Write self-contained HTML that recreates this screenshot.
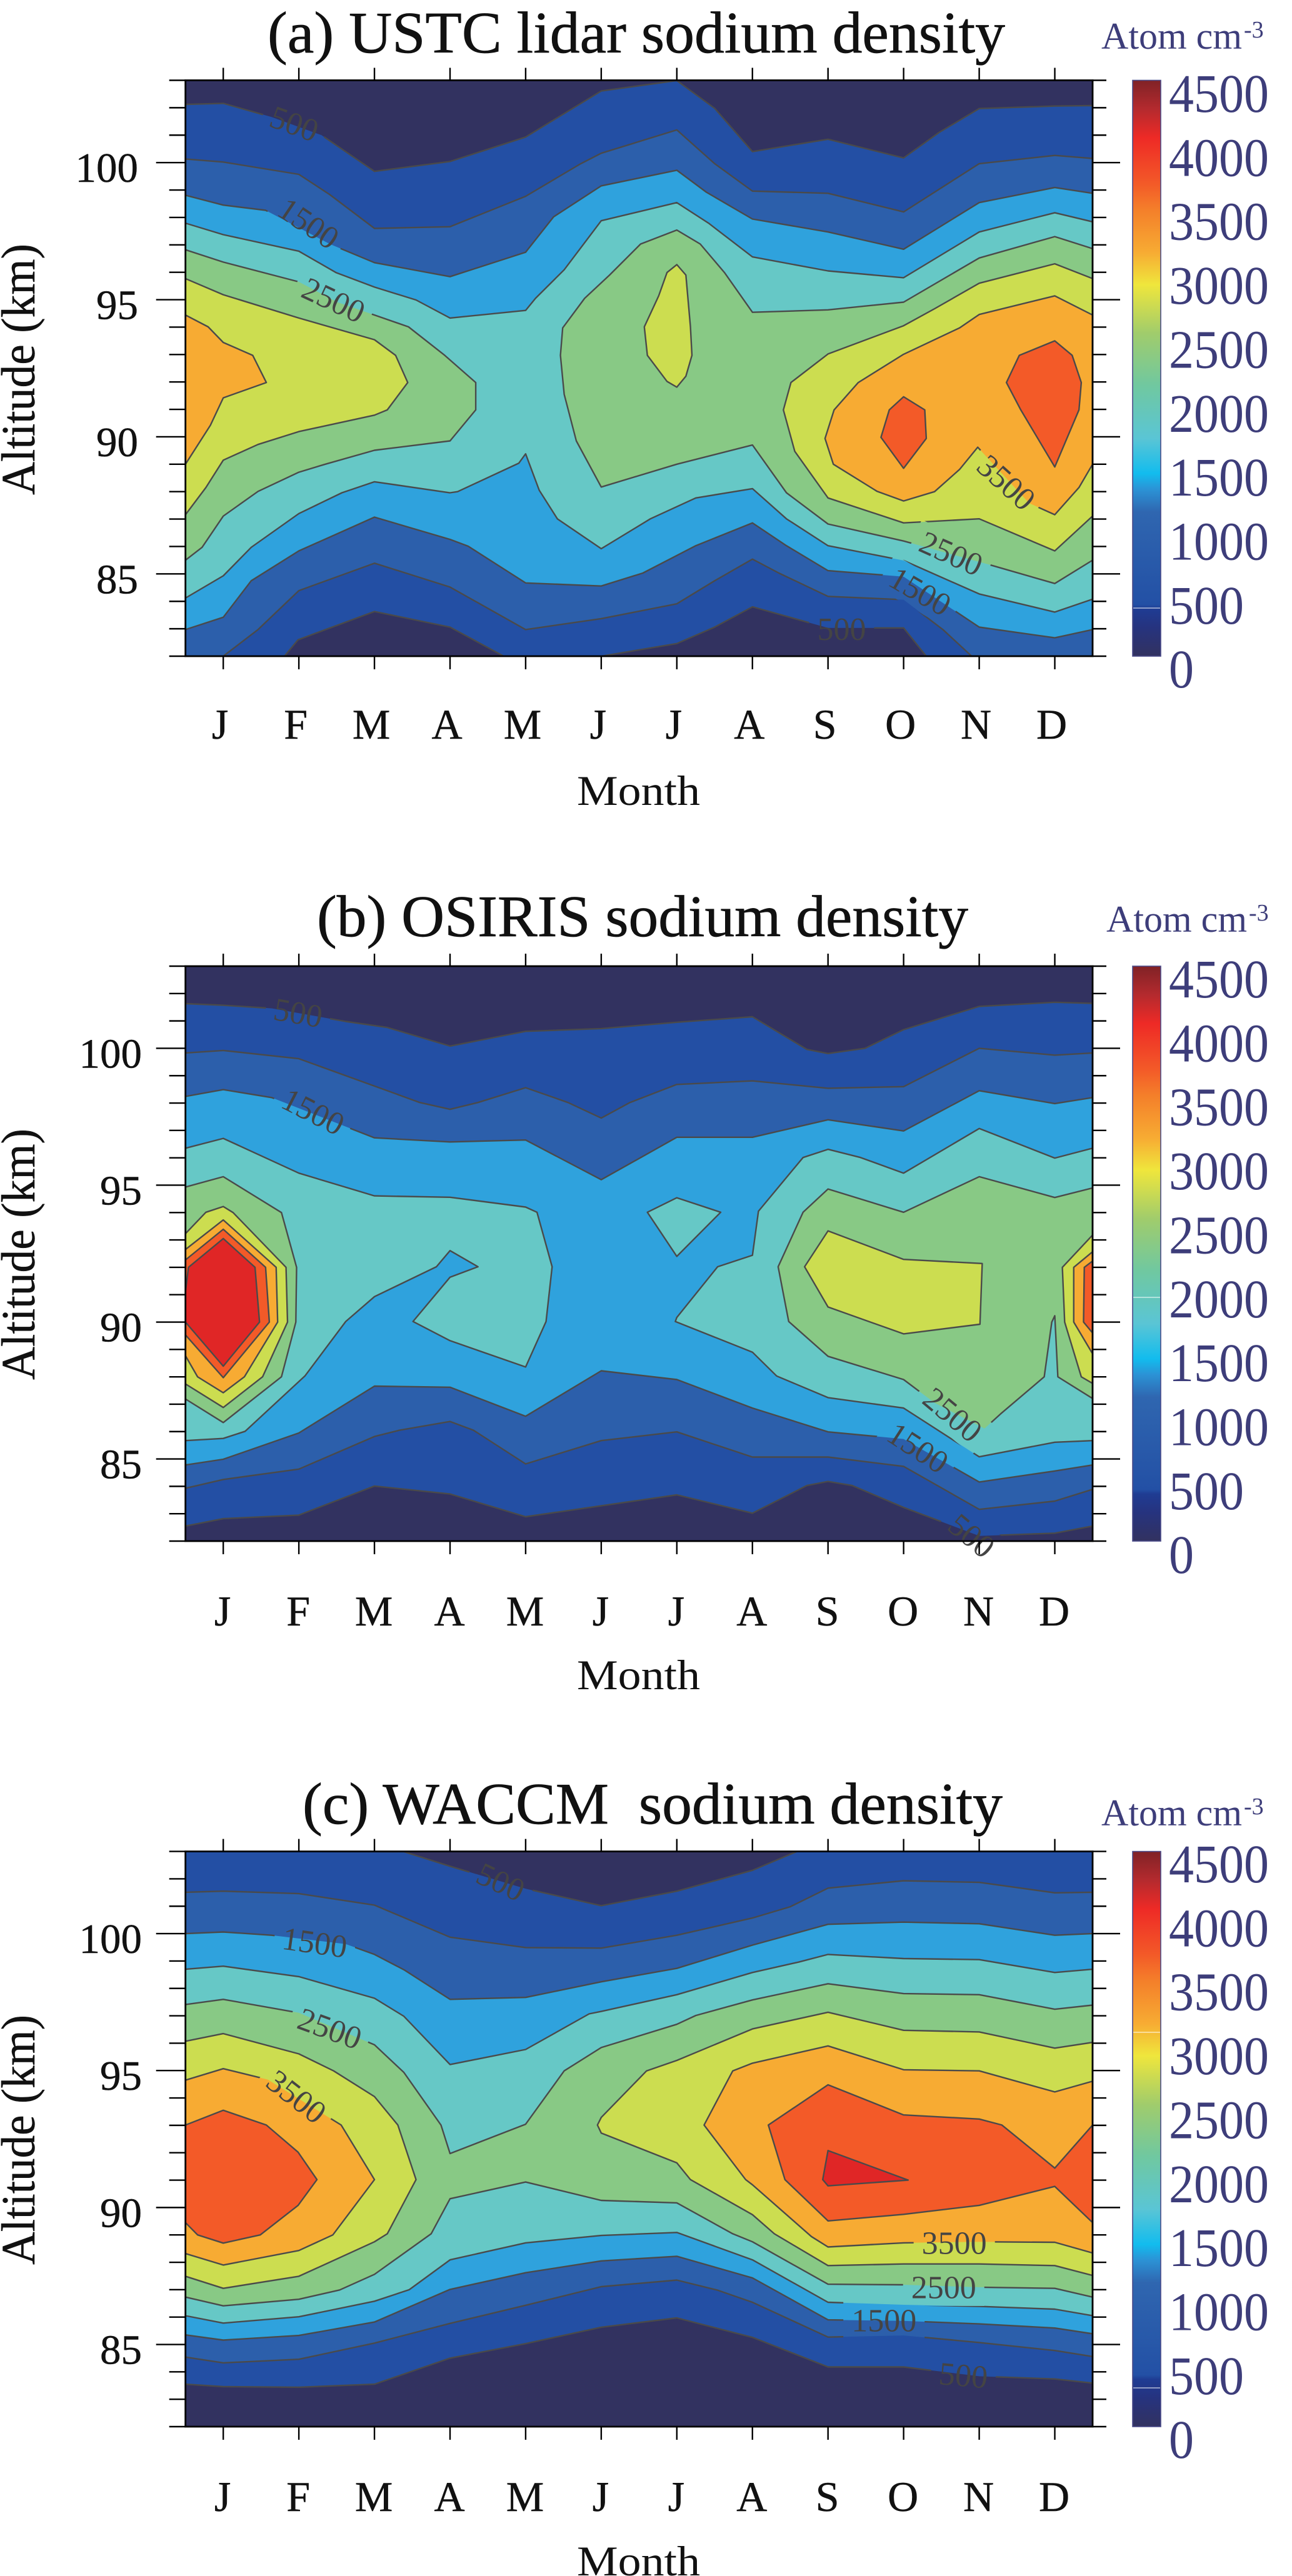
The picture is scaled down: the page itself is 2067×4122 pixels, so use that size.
<!DOCTYPE html>
<html lang="en">
<head>
<meta charset="utf-8">
<title>Sodium density contour charts</title>
<style>
html,body{margin:0;padding:0;background:#fff;}
svg{display:block;}
text{font-family:"Liberation Serif",serif;white-space:pre;}
</style>
</head>
<body>
<svg id="chart" xmlns="http://www.w3.org/2000/svg" width="2067" height="4122" viewBox="0 0 2067 4122">
<defs>
<linearGradient id="cbar" x1="0" y1="1" x2="0" y2="0">
<stop offset="0" stop-color="#323260"/>
<stop offset="0.05" stop-color="#26337f"/>
<stop offset="0.082" stop-color="#1f3c93"/>
<stop offset="0.09" stop-color="#2350a5"/>
<stop offset="0.25" stop-color="#2f66b0"/>
<stop offset="0.29" stop-color="#2b93d6"/>
<stop offset="0.317" stop-color="#12bcee"/>
<stop offset="0.378" stop-color="#5ac5d5"/>
<stop offset="0.47" stop-color="#70c8a0"/>
<stop offset="0.56" stop-color="#a0cc6c"/>
<stop offset="0.645" stop-color="#efe63c"/>
<stop offset="0.70" stop-color="#f7ac33"/>
<stop offset="0.775" stop-color="#f47f2a"/>
<stop offset="0.82" stop-color="#f35a28"/>
<stop offset="0.90" stop-color="#ee2a26"/>
<stop offset="0.95" stop-color="#b42a2e"/>
<stop offset="1" stop-color="#802226"/>
</linearGradient>
</defs>

<text x="428" y="84" font-size="94" fill="#111" stroke="#111" stroke-width="0.7" textLength="1180" lengthAdjust="spacingAndGlyphs">(a) USTC lidar sodium density</text>
<text x="507" y="1498" font-size="94" fill="#111" stroke="#111" stroke-width="0.7" textLength="1042" lengthAdjust="spacingAndGlyphs">(b) OSIRIS sodium density</text>
<text x="484" y="2918" font-size="94" fill="#111" stroke="#111" stroke-width="0.7" textLength="1120" lengthAdjust="spacingAndGlyphs">(c) WACCM  sodium density</text>

<text x="1762" y="78" font-size="60" fill="#3d3d7a" textLength="225" lengthAdjust="spacingAndGlyphs">Atom cm</text>
<text x="1990" y="60" font-size="38" fill="#3d3d7a">-3</text>
<text x="1770" y="1491" font-size="60" fill="#3d3d7a" textLength="225" lengthAdjust="spacingAndGlyphs">Atom cm</text>
<text x="1998" y="1473" font-size="38" fill="#3d3d7a">-3</text>
<text x="1762" y="2921" font-size="60" fill="#3d3d7a" textLength="225" lengthAdjust="spacingAndGlyphs">Atom cm</text>
<text x="1990" y="2903" font-size="38" fill="#3d3d7a">-3</text>

<text x="923" y="1288" font-size="68" fill="#111" textLength="197" lengthAdjust="spacingAndGlyphs">Month</text>
<text x="923" y="2703" font-size="68" fill="#111" textLength="197" lengthAdjust="spacingAndGlyphs">Month</text>
<text x="923" y="4121" font-size="68" fill="#111" textLength="197" lengthAdjust="spacingAndGlyphs">Month</text>

<text transform="translate(55,792) rotate(-90)" font-size="76" fill="#111" stroke="#111" stroke-width="0.5" textLength="402" lengthAdjust="spacingAndGlyphs">Altitude (km)</text>
<text transform="translate(55,2208) rotate(-90)" font-size="76" fill="#111" stroke="#111" stroke-width="0.5" textLength="402" lengthAdjust="spacingAndGlyphs">Altitude (km)</text>
<text transform="translate(55,3624) rotate(-90)" font-size="76" fill="#111" stroke="#111" stroke-width="0.5" textLength="400" lengthAdjust="spacingAndGlyphs">Altitude (km)</text>
</svg>

<script>
// ---- shared axis values ----
const monthLabels = ["J","F","M","A","M","J","J","A","S","O","N","D"];
const altitudeTickLabels = [100,95,90,85];
const altitudeRange = [82,103];
const monthRange = [-0.5,11.5];
const contourLevels = [500,1000,1500,2000,2500,3000,3500,4000,4500];
const colorbarLabels = [4500,4000,3500,3000,2500,2000,1500,1000,500,0];

// ---- panel (a): regions above each level, rings of [month index, altitude km] ----
const aLevel500 = [[[-0.5,102.12],[0,102.16],[0.64,101.66],[1.3,101],[2,99.68],[3,100.04],[4,100.93],[5,102.61],[6,102.99],[6.5,101.98],[7,100.4],[8,100.85],[9,100.17],[9.47,101.1],[10,101.97],[11,102.06],[11.5,102.08],[11.5,82],[9.3,82],[9,83.03],[8,83.03],[7,83.8],[6.5,83.06],[6,82.46],[5,82],[3.71,82],[3,83.06],[2,83.63],[0.99,82.6],[0.81,82],[-0.5,82]]];
const aLevel1000 = [[[-0.5,100.13],[0,100.02],[1,99.57],[1.41,98.83],[2,97.6],[3,97.66],[4,98.77],[4.73,99.96],[5,100.34],[6,101.19],[6.5,99.96],[7,98.96],[8,98.88],[9,98.2],[10,99.96],[11,100.26],[11.5,100.15],[11.5,82],[9.9,82],[9.52,82.97],[9,84.06],[8,84.18],[7.35,85.03],[7,85.54],[6.5,84.75],[6,83.91],[5,83.37],[4,82.97],[3,84.52],[2,85.39],[1,84.39],[0.46,82.97],[0,82],[-0.5,82]]];
const aLevel1500 = [[[-0.5,98.81],[0,98.45],[0.56,98.26],[1.41,97.03],[2,96.35],[3,95.84],[4,96.73],[4.37,98.02],[5,99.15],[6,99.72],[6.39,98.92],[7,97.94],[8,97.47],[9,96.84],[10,98.54],[11,99.09],[11.5,98.88],[11.5,82.97],[11,82.67],[10,83.06],[9,84.9],[8,85.12],[7.45,86.03],[7,86.86],[6.25,86.03],[5.55,85.03],[5,84.56],[4,84.67],[3.24,86.01],[3,86.26],[2,87.07],[1,85.84],[0.37,84.75],[0,83.42],[-0.5,82.97]]];
const aLevel2000 = [[[-0.5,97.79],[0,97.37],[1,96.77],[1.49,95.99],[2,95.46],[2.55,94.99],[3,94.33],[4,94.61],[4.13,95.05],[4.51,96.09],[5,97.88],[6,98.54],[6.42,97.79],[7,96.56],[8,96.05],[9,95.8],[10,97.47],[11,98.17],[11.5,97.84],[11.5,84.08],[11,83.61],[10,84.27],[9,85.49],[8,86.03],[7.45,87.01],[7,88.11],[6.25,87.77],[5.65,87.01],[5,85.92],[4.42,87.01],[4.18,88.05],[4,89.38],[3.91,89.04],[3.1,88],[3,87.96],[2,88.36],[1.57,87.96],[1,87.2],[0.37,85.97],[0,84.93],[-0.5,84.12]]];
const aLevel2500 = [
 [[-0.5,96.82],[0,96.37],[1,95.65],[1.51,94.91],[2.45,94.01],[2.93,92.97],[3.34,91.98],[3.34,90.98],[3,89.85],[2,89.51],[1.35,89],[1,88.71],[0.46,88.01],[0,87.11],[-0.28,85.97],[-0.5,85.5]],
 [[4.46,92.97],[4.49,93.97],[4.78,95.05],[5.11,95.9],[5.52,97.03],[6,97.54],[6.31,97.03],[6.63,95.99],[7,94.54],[8,94.63],[9,94.91],[10,96.52],[11,97.3],[11.5,96.86],[11.5,85.5],[11,84.65],[10.17,85.31],[9,86.2],[8,86.82],[7.45,87.96],[7,89.7],[6,89],[5,88.17],[4.67,89.85],[4.51,91.55]]
];
const aLevel3000 = [
 [[-0.5,95.77],[0,95.18],[1,94.33],[2,93.54],[2.28,92.97],[2.44,91.98],[2.17,90.98],[2,90.79],[1,90.19],[0.46,89.72],[0,89.15],[-0.23,88.15],[-0.5,87.16]],
 [[6,96.28],[6.12,95.9],[6.18,94.01],[6.2,92.97],[6.12,92.21],[6,91.81],[5.87,92.02],[5.61,92.97],[5.57,94.01],[5.76,95.14],[5.87,95.99]],
 [[11.5,95.77],[11,96.31],[10,95.6],[9.41,94.67],[9,94.05],[8,93.02],[7.51,91.98],[7.41,90.98],[7.56,89.47],[8,87.77],[9,86.86],[10,87.01],[11,85.84],[11.5,87.11]]
];
const aLevel3500 = [
 [[-0.5,94.44],[-0.2,94.01],[0,93.44],[0.39,92.97],[0.57,91.98],[0,91.42],[-0.17,90.42],[-0.5,89]],
 [[11.5,94.44],[11,95.14],[10,94.46],[9.74,93.97],[9,93.01],[8.4,91.98],[8.08,90.98],[7.96,89.94],[8.07,89],[8.65,88.01],[9,87.66],[9.41,88],[9.74,88.81],[9.98,89.62],[10.66,87.58],[11,87.16],[11.32,88.15],[11.5,89]]
];
const aLevel4000 = [
 [[9,91.46],[9.28,90.98],[9.3,89.94],[9,88.85],[8.7,89.98],[8.81,90.98]],
 [[11,93.5],[11.23,92.97],[11.35,91.98],[11.32,90.98],[11,88.9],[10.55,90.98],[10.36,91.98],[10.53,92.97]]
];
const aLabelValues = [500,1500,2500,3500,2500,1500,500];
const aLabelMonths = [0.94,1.13,1.46,10.36,9.63,9.22,8.18];
const aLabelAltitudes = [101.42,97.79,94.99,88.34,85.75,84.37,83];
const aLabelAngles = [20,34,25,42,24,30,0];

// ---- panel (b) ----
const bLevel500 = [[[-0.5,101.63],[0,101.57],[0.64,101.46],[1.62,100.98],[2.17,100.76],[3,100.08],[4,100.62],[5,100.72],[6,100.95],[7,101.15],[7.72,99.96],[8,99.81],[8.49,100],[9,100.68],[10,101.53],[11,101.68],[11.5,101.64],[11.5,82.55],[11,82.29],[10,82.19],[9,83.23],[8.32,84.03],[8,84.18],[7.72,84.03],[7,83.02],[6,83.69],[4,82.89],[3,83.72],[2,84.01],[1,82.95],[0,82.82],[-0.5,82.55]]];
const bLevel1000 = [[[-0.5,99.83],[0,99.92],[1,99.62],[2,98.62],[2.6,98.02],[3,97.77],[3.37,98.02],[4,98.56],[4.56,98.02],[5,97.45],[5.38,98.02],[6,98.68],[7,98.81],[8,98.54],[9,98.6],[10,100],[11,99.75],[11.5,99.83],[11.5,83.89],[11,83.46],[10,83.16],[9,84.73],[8,85.07],[7,85.07],[6,85.99],[5,85.67],[4,84.82],[3.31,86.05],[3,86.37],[2.33,86.05],[2,85.82],[1,84.63],[0,84.25],[-0.5,83.93]]];
const bLevel1500 = [[[-0.5,98.24],[0,98.49],[0.64,98.2],[2,96.73],[3,96.58],[4,96.65],[5,95.2],[6,96.75],[7,96.75],[8,97.39],[9,96.98],[10,98.45],[11,97.98],[11.5,98.2],[11.5,84.78],[11,84.56],[10,84.16],[9,85.73],[8,85.99],[7,86.86],[6,87.9],[5,88.22],[4,86.56],[3,87.62],[2,87.66],[1,85.95],[0,84.99],[-0.5,84.78]]];
const bLevel2000 = [
 [[-0.5,96.35],[0,96.71],[1,95.44],[2,94.61],[3,94.56],[4,94.2],[4.15,94.01],[4.35,92.02],[4.27,90.02],[4,88.36],[3,89.32],[2.51,90.02],[3,91.64],[3.37,92.02],[3,92.61],[2.82,92.02],[2,90.93],[1.62,90.02],[1.08,88.03],[0.29,86.01],[0,85.75],[-0.5,85.67]],
 [[6,94.54],[6.58,94.01],[6,92.4],[5.61,94.01]],
 [[11.5,96.35],[11,95.99],[10,97.07],[9,95.44],[8.43,96.01],[8,96.31],[7.67,96.01],[7.08,94.05],[7,92.44],[6.54,92.02],[6,90.17],[5.98,90.02],[7,88.9],[7.32,88.03],[8,87.24],[9,86.86],[10,85.08],[11,85.61],[11.5,85.67]]
];
const bLevel2500 = [
 [[-0.5,94.93],[0,95.31],[0.77,94],[0.97,92],[0.96,90],[0.77,88],[0,86.33],[-0.5,87.19]],
 [[11.5,94.9],[11,94.55],[10,95.31],[9,94.01],[8,94.86],[7.67,94.01],[7.34,92.02],[7.48,90.02],[8,88.75],[9,87.9],[9.41,87.05],[10.07,86.11],[10.28,86.64],[10.86,88],[10.96,90],[11,90.23],[11.04,88],[11.5,87.21]]
];
const bLevel3000 = [
 [[-0.5,93.23],[-0.23,94.01],[0,94.22],[0.13,94],[0.83,92],[0.85,90],[0.52,88],[0,86.88],[-0.5,87.74]],
 [[8,93.33],[9,92.29],[10.04,92.14],[10.01,89.92],[9,89.57],[8,90.55],[7.69,92.02]],
 [[11.5,93.18],[11.1,92],[11.13,90],[11.35,88],[11.5,87.76]]
];
const bLevel3500 = [
 [[-0.5,92.65],[0,93.73],[0.7,92],[0.72,90],[0.28,88],[0,87.42],[-0.34,88],[-0.5,88.77]],
 [[11.5,92.57],[11.25,92],[11.25,90],[11.5,88.84]]
];
const bLevel4000 = [
 [[-0.5,92.27],[0,93.39],[0.56,92],[0.61,90],[0,87.97],[-0.5,89.53]],
 [[11.5,92.23],[11.39,92],[11.38,90],[11.5,89.6]]
];
const bLevel4500 = [[[-0.5,91.1],[-0.46,92],[0,93.05],[0.42,92],[0.48,90],[0,88.39],[-0.5,90]]];
const bLabelValues = [500,1500,2500,1500,500];
const bLabelMonths = [0.99,1.19,9.65,9.19,9.9];
const bLabelAltitudes = [101.3,97.69,86.62,85.41,82.2];
const bLabelAngles = [10,27,40,33,40];

// ---- panel (c) ----
const cLevel500 = [[[-0.5,103],[2.39,102.99],[3,102.46],[4,101.64],[5,101.02],[6,101.55],[7,102.31],[7.59,103],[11.5,103],[11.5,83.59],[11,83.74],[10,83.84],[9,84.18],[8,84.18],[7,85.26],[6,85.97],[5,85.63],[4,85.03],[3,84.5],[2,83.55],[1,83.44],[0,83.46],[-0.5,83.55]]];
const cLevel1000 = [[[-0.5,101.51],[0,101.55],[1,101.46],[2,101.04],[3,99.87],[4,99.49],[5,99.47],[6,99.94],[7,100.57],[7.5,100.98],[8,101.66],[9,101.93],[10,101.87],[11,101.49],[11.5,101.51],[11.5,84.56],[11,84.78],[10,85.07],[9,85.33],[8,85.27],[7,86.54],[6.53,86.99],[6,87.35],[5,87.11],[4,86.43],[3,85.77],[2,85.05],[1,84.46],[0,84.33],[-0.5,84.54]]];
const cLevel1500 = [[[-0.5,100],[0,100.06],[0.64,99.94],[1.62,99.62],[2,99.24],[2.39,98.68],[3,97.6],[4,97.67],[5,98.24],[6,98.73],[7,99.58],[8,100.34],[9,100.42],[10,100.36],[11,99.94],[11.5,100],[11.5,85.39],[11,85.6],[10,85.75],[9,85.86],[8,85.9],[7,87.43],[6,88.22],[5,88.05],[4,87.62],[3,87.01],[2,85.82],[1,85.33],[0,85.16],[-0.5,85.35]]];
const cLevel2000 = [[[-0.5,98.7],[0,98.81],[1,98.43],[2,97.64],[2.39,96.98],[3,95.22],[4,95.77],[4.84,97.07],[5,97.16],[6,97.77],[7,98.58],[7.61,98.96],[8,99.24],[9,99.09],[10,99.05],[11,98.58],[11.5,98.7],[11.5,86.05],[11,86.29],[10,86.39],[9,86.45],[8,86.54],[7,88.09],[6,89.09],[5,88.98],[4,88.71],[3,88.09],[2.46,87],[2,86.58],[1,86.01],[0,85.78],[-0.5,86.05]]];
const cLevel2500 = [[[-0.5,97.41],[0,97.6],[1,97.11],[2,95.94],[2.39,94.93],[2.88,93.01],[3,91.97],[4,93.04],[4.51,94.99],[5,95.84],[6,96.69],[6.25,97.01],[7,97.58],[8,98.17],[9,97.81],[10,97.77],[11,97.24],[11.5,97.39],[11.5,86.73],[11,87.05],[10,87.09],[9,87.18],[8,87.2],[7,88.75],[6.74,89.04],[6,90.17],[5,90.26],[4,90.93],[3,90.32],[2.75,89.04],[2,87.56],[1.54,86.99],[1,86.65],[0,86.41],[-0.5,86.73]]];
const cLevel3000 = [
 [[-0.5,96.07],[0,96.35],[1,95.61],[1.46,94.99],[2,94.05],[2.31,93.01],[2.55,91.02],[2.17,89.04],[2,88.75],[1,87.49],[0,87.05],[-0.5,87.49]],
 [[11.5,96.03],[11,95.82],[10,96.41],[9,96.47],[8,97.13],[7,96.52],[6,95.37],[5.6,94.99],[5,93.29],[4.95,93.01],[5,92.72],[6,91.63],[6.18,91.02],[7,89.74],[7.29,89.04],[8,87.88],[9,87.94],[10,87.94],[11,87.88],[11.5,87.52]]
];
const cLevel3500 = [
 [[-0.5,94.65],[0,95.07],[0.59,94.67],[1.56,93.01],[2,91.02],[1.45,89],[1,88.43],[0,87.9],[-0.5,88.32]],
 [[11.5,94.61],[11,94.22],[10,94.99],[9,95.03],[8,95.9],[7,95.27],[6.74,94.99],[6.36,93.01],[6.91,91.02],[7,90.83],[7.78,88.94],[8,88.56],[9,88.71],[10,88.75],[11,88.73],[11.5,88.34]]
];
const cLevel4000 = [
 [[-0.5,93.01],[0,93.55],[0.57,93.01],[0.99,92.02],[1.24,91.02],[0.99,90.08],[0.49,89],[0,88.7],[-0.34,89],[-0.5,89.45]],
 [[11.5,93.01],[11,91.44],[10.3,93.01],[10,93.23],[9,93.38],[8,94.48],[7.21,93.01],[7.43,91.02],[8,89.51],[9,89.75],[10,90.08],[11,90.77],[11.5,89.45]]
];
const cLevel4500 = [[[8,92.08],[9.06,91],[8,90.79],[7.93,91.02]]];
const cLabelValues = [500,1500,2500,3500,3500,2500,1500,500];
const cLabelMonths = [3.67,1.21,1.41,0.97,9.67,9.53,8.74,9.79];
const cLabelAltitudes = [101.89,99.68,96.54,94.05,88.71,87.09,85.88,83.88];
const cLabelAngles = [25,8,20,38,0,0,0,5];

const panelARegions = [aLevel500,aLevel1000,aLevel1500,aLevel2000,aLevel2500,aLevel3000,aLevel3500,aLevel4000,[]];
const panelBRegions = [bLevel500,bLevel1000,bLevel1500,bLevel2000,bLevel2500,bLevel3000,bLevel3500,bLevel4000,bLevel4500];
const panelCRegions = [cLevel500,cLevel1000,cLevel1500,cLevel2000,cLevel2500,cLevel3000,cLevel3500,cLevel4000,cLevel4500];

// ---- drawing ----
const SVGNS = "http://www.w3.org/2000/svg";
const svg = document.getElementById("chart");
const bandFill = ["#234fa4","#2c5fab","#2fa2dd","#66c8c6","#88c985","#ccdd50","#f7ab33","#f35a28","#e02626"];
const PLOT_L = 296.7, PLOT_R = 1748;

function el(tag, attrs, parent){
  const e = document.createElementNS(SVGNS, tag);
  for (const k in attrs) e.setAttribute(k, attrs[k]);
  parent.appendChild(e);
  return e;
}

function drawPanel(p){
  const xScale = m => PLOT_L + (m - monthRange[0]) * (PLOT_R - PLOT_L) / (monthRange[1] - monthRange[0]);
  const yScale = km => p.top + (altitudeRange[1] - km) * (p.bottom - p.top) / (altitudeRange[1] - altitudeRange[0]);
  const ringPath = r => "M" + r.map(q => xScale(q[0]).toFixed(1) + " " + yScale(q[1]).toFixed(1)).join("L") + "Z";

  const g = el("g", {}, svg);
  
  

  const clip = el("clipPath", {id: "clip-" + p.id}, g);
  el("rect", {x: PLOT_L, y: p.top, width: PLOT_R - PLOT_L, height: p.bottom - p.top}, clip);

  const mask = el("mask", {id: "gap-" + p.id, maskUnits: "userSpaceOnUse", x: 0, y: 0, width: 2067, height: 4122}, g);
  el("rect", {x: 0, y: 0, width: 2067, height: 4122, fill: "#fff"}, mask);
  p.labelValues.forEach((v, i) => {
    const w = String(v).length * 26 + 26;
    const cx = xScale(p.labelMonths[i]), cy = yScale(p.labelAltitudes[i]);
    el("rect", {x: cx - w / 2, y: cy - 30, width: w, height: 60, fill: "#000",
      transform: "rotate(" + p.labelAngles[i] + " " + cx + " " + cy + ")"}, mask);
  });

  const plot = el("g", {"clip-path": "url(#clip-" + p.id + ")"}, g);
  const bg = el("rect", {x: PLOT_L, y: p.top, width: PLOT_R - PLOT_L, height: p.bottom - p.top, fill: "#323260"}, plot);
  
  

  p.regions.forEach((rings, i) => {
    rings.forEach(r => {
      const f = el("path", {d: ringPath(r), fill: bandFill[i]}, plot);
      
      
    });
  });
  const lines = el("g", {mask: "url(#gap-" + p.id + ")"}, plot);
  p.regions.forEach((rings, i) => {
    rings.forEach(r => {
      const s = el("path", {d: ringPath(r), fill: "none", stroke: "#4a4a4a", "stroke-width": 2.4, "stroke-linejoin": "round"}, lines);
      
      
    });
  });

  p.labelValues.forEach((v, i) => {
    const cx = xScale(p.labelMonths[i]), cy = yScale(p.labelAltitudes[i]);
    const t = el("text", {transform: "translate(" + cx + "," + cy + ") rotate(" + p.labelAngles[i] + ")",
      "font-size": 52, fill: "#444", "text-anchor": "middle", dy: "0.34em"}, g);
    
    
    t.textContent = v;
  });

  // frame
  const frame = el("rect", {x: PLOT_L, y: p.top, width: PLOT_R - PLOT_L, height: p.bottom - p.top, fill: "none", stroke: "#000", "stroke-width": 2.8}, g);
  
  

  // altitude ticks
  for (let km = altitudeRange[0]; km <= altitudeRange[1]; km++) {
    const major = altitudeTickLabels.indexOf(km) >= 0;
    const y = yScale(km);
    const lt = el("line", {x1: PLOT_L - (major ? 47 : 26), x2: PLOT_L, y1: y, y2: y, stroke: "#000", "stroke-width": 2.4}, g);
    
    
    const rt = el("line", {x1: PLOT_R, x2: PLOT_R + (major ? 44 : 22), y1: y, y2: y, stroke: "#000", "stroke-width": 2.4}, g);
    
    
  }
  altitudeTickLabels.forEach(km => {
    const t = el("text", {x: p.yLabelX, y: yScale(km) + 31, "font-size": 67, fill: "#111", stroke: "#111", "stroke-width": 0.5, "text-anchor": "end"}, g);
    
    
    t.textContent = km;
  });

  // month ticks
  monthLabels.forEach((label, i) => {
    const x = xScale(i);
    const tt = el("line", {x1: x, x2: x, y1: p.top - 20, y2: p.top, stroke: "#000", "stroke-width": 2.4}, g);
    
    
    const bt = el("line", {x1: x, x2: x, y1: p.bottom, y2: p.bottom + 21, stroke: "#000", "stroke-width": 2.4}, g);
    
    
    const t = el("text", {x: x + p.monthDx, y: p.monthY, "font-size": 68, fill: "#111", stroke: "#111", "stroke-width": 0.5, "text-anchor": "middle"}, g);
    
    
    t.textContent = label;
  });

  // colour bar
  const cb = el("rect", {x: 1812, y: p.top, width: 45, height: p.bottom - p.top, fill: "url(#cbar)", stroke: "#4a4a88", "stroke-width": 1.6}, g);
  
  
  p.barMarks.forEach(y => {
    const m = el("line", {x1: 1813, x2: 1856, y1: y, y2: y, stroke: "#fff", "stroke-width": 1}, g);
    
    
  });
  colorbarLabels.forEach((v, i) => {
    const t = el("text", {transform: "translate(1870," + (p.barLabelY + i * 102.35) + ") scale(1,1.09)", "font-size": 80, fill: "#3d3d7a"}, g);
    
    
    t.textContent = v;
  });
}

drawPanel({id:"a", top:128.5, bottom:1050, regions:panelARegions, labelValues:aLabelValues, labelMonths:aLabelMonths, labelAltitudes:aLabelAltitudes, labelAngles:aLabelAngles, yLabelX:221, monthY:1182, monthDx:-5, barLabelY:179, barMarks:[973]});
drawPanel({id:"b", top:1546, bottom:2466, regions:panelBRegions, labelValues:bLabelValues, labelMonths:bLabelMonths, labelAltitudes:bLabelAltitudes, labelAngles:bLabelAngles, yLabelX:227, monthY:2601, monthDx:-1, barLabelY:1596, barMarks:[2076]});
drawPanel({id:"c", top:2962.6, bottom:3883, regions:panelCRegions, labelValues:cLabelValues, labelMonths:cLabelMonths, labelAltitudes:cLabelAltitudes, labelAngles:cLabelAngles, yLabelX:227, monthY:4018, monthDx:-1, barLabelY:3012, barMarks:[3252,3821]});
</script>
</body>
</html>
